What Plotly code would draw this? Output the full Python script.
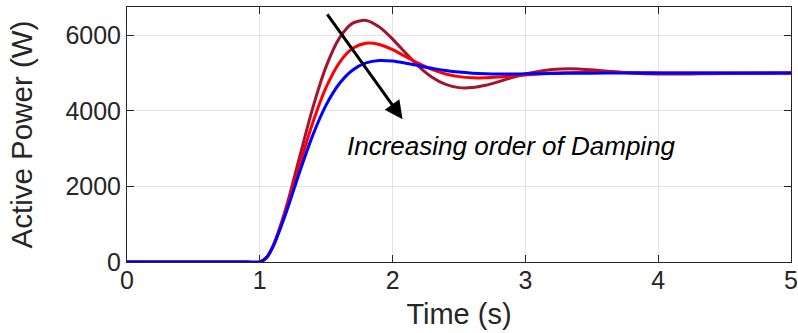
import plotly.graph_objects as go

# Time samples (s) and active power responses (W) for three damping levels
time_s = [0, 0.5, 0.9, 1.0, 1.05, 1.1, 1.2, 1.3, 1.4, 1.5, 1.6, 1.7, 1.8, 1.9, 2.0,
          2.1, 2.2, 2.3, 2.4, 2.5, 2.6, 2.7, 2.8, 2.9, 3.0,
          3.2, 3.4, 3.6, 3.8, 4.0, 4.5, 5.0]

power_low_damping = [0, 0, 0, 0, 115, 430, 1465, 2785, 4093, 5177, 5932, 6323, 6394, 6219, 5901,
                     5524, 5167, 4885, 4700, 4616, 4617, 4679, 4775, 4881, 4976,
                     5093, 5110, 5055, 5001, 4975, 4992, 5000]
power_mid_damping = [0, 0, 0, 0, 115, 415, 1388, 2570, 3700, 4628, 5280, 5656, 5791, 5758, 5619,
                     5434, 5250, 5092, 4977, 4907, 4876, 4876, 4895, 4923, 4953,
                     5000, 5019, 5018, 5010, 5005, 5000, 5000]
power_high_damping = [0, 0, 0, 0, 115, 410, 1325, 2385, 3366, 4159, 4725, 5082, 5269, 5334, 5319,
                      5263, 5193, 5125, 5069, 5027, 4999, 4984, 4978, 4978, 4981,
                      4990, 4998, 5000, 5000, 5000, 5000, 5000]

x_ticks = [0, 1, 2, 3, 4, 5]
y_ticks = [0, 2000, 4000, 6000]

series = [
    (power_low_damping, "#A2142F"),
    (power_mid_damping, "#FF0000"),
    (power_high_damping, "#0000FF"),
]

fig = go.Figure()
for values, color in series:
    fig.add_trace(go.Scatter(
        x=time_s, y=values, mode="lines",
        line=dict(color=color, width=3, shape="spline", smoothing=0.8),
        showlegend=False, cliponaxis=False,
    ))

axis_color = "#262626"
font_family = "Liberation Sans, Arial, sans-serif"

fig.update_xaxes(
    range=[0, 5], tickvals=x_ticks, ticktext=[str(v) for v in x_ticks],
    showgrid=True, gridcolor="#e3e3e3", gridwidth=1,
    zeroline=False, showline=True, linecolor=axis_color, linewidth=1,
    mirror="allticks", ticks="inside", ticklen=7, tickcolor=axis_color,
    tickfont=dict(size=25, color=axis_color, family=font_family),
    ticklabelstandoff=-4, ticklabeloverflow="allow", automargin=False,
    title=dict(text="Time (s)", font=dict(size=29, color=axis_color, family=font_family),
               standoff=10),
)
fig.update_yaxes(
    range=[0, 6750], tickvals=y_ticks, ticktext=[str(v) for v in y_ticks],
    showgrid=True, gridcolor="#e3e3e3", gridwidth=1,
    zeroline=False, showline=True, linecolor=axis_color, linewidth=1,
    mirror="allticks", ticks="inside", ticklen=7, tickcolor=axis_color,
    tickfont=dict(size=25, color=axis_color, family=font_family),
    ticklabelstandoff=0, automargin=False,
    title=dict(text="Active Power (W)", font=dict(size=29.5, color=axis_color, family=font_family),
               standoff=24),
)

# Arrow indicating the direction of increasing damping
fig.add_annotation(
    x=2.075, y=3780, ax=1.5, ay=6594, xref="x", yref="y", axref="x", ayref="y",
    text="", showarrow=True, arrowhead=2, arrowsize=1.2, arrowwidth=3, arrowcolor="black",
)
fig.add_annotation(
    x=1.64, y=3072, xref="x", yref="y", xanchor="left", yanchor="middle",
    text="<i>Increasing order of Damping</i>", showarrow=False,
    font=dict(size=26, color="black", family=font_family),
)

fig.update_layout(
    width=798, height=333,
    margin=dict(l=127, r=7, t=7, b=71),
    paper_bgcolor="white", plot_bgcolor="white",
)

fig.write_html("out.html")
